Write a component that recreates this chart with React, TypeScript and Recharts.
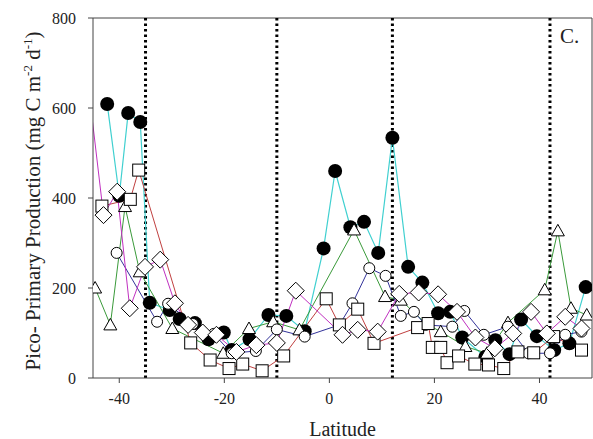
import React from 'react';
import { ComposedChart, Line, XAxis, YAxis, ReferenceLine, Label } from 'recharts';

// Series 1: cyan line, filled black circles
const cyanLat = [-42.3, -40, -38.3, -36, -34.2, -30.4, -28.5, -25.6, -23, -20.1, -18.6, -15.2, -11.6, -8.2, -4.7, -1.1, 1.1, 4, 6.6, 9.3, 12, 15, 17.7, 20.7, 23, 25.3, 29.7, 31.6, 34.3, 36.5, 39.5, 42.8, 45.7, 48.8];
const cyanVal = [609, 405, 589, 569, 167, 151, 131, 122, 86, 101, 62, 86, 140, 138, 104, 288, 460, 335, 347, 278, 534, 247, 212, 144, 147, 90, 47, 84, 53, 130, 93, 62, 77, 202];

// Series 2: green line, open triangles
const greenLat = [-44.6, -41.7, -38.9, -36.1, -29.9, -20.2, -15.3, -10.7, -5.7, 4.7, 10.6, 13.6, 18.5, 21.2, 25.9, 30, 34, 41, 43.5, 46, 49];
const greenVal = [200, 118, 381, 236, 110, 55, 110, 125, 107, 329, 181, 173, 120, 103, 70, 55, 123, 196, 327, 155, 140];

// Series 3: magenta line, open diamonds (first point lies just off the left edge)
const magentaLat = [-46, -43, -40.4, -38, -35.1, -32.2, -29.4, -26.9, -24.1, -21.5, -17.7, -13.9, -10, -6.4, 2.5, 5.4, 9.2, 13.3, 17, 20.7, 24.3, 27.8, 31.5, 35, 38.4, 41.4, 44.9, 48];
const magentaVal = [660, 362, 414, 155, 247, 263, 166, 118, 101, 96, 58, 73, 78, 194, 96, 107, 103, 187, 190, 186, 147, 90, 66, 99, 147, 99, 136, 110];

// Series 4: navy line, open circles
const navyLat = [-40.5, -32.8, -30.7, -26, -22, -18.6, -14, -10, -4.7, 1.9, 4.4, 7.6, 10.7, 13.6, 16.1, 18.3, 23.4, 25.7, 29.4, 34, 37.9, 42, 44.9, 48];
const navyVal = [278, 125, 165, 120, 98, 55, 60, 108, 92, 118, 166, 244, 227, 138, 147, 118, 114, 149, 96, 114, 55, 55, 96, 103];

// Series 5: red line, open squares
const redLat = [-43.3, -37.9, -36.3, -26.4, -22.7, -19.1, -16.5, -12.8, -8.7, -0.6, 1.9, 5.4, 8.5, 16.8, 18.8, 19.6, 21.2, 22.4, 24.6, 27.7, 30.3, 33.2, 35.9, 38.9, 42.7, 48];
const redVal = [382, 397, 462, 78, 40, 21, 31, 16, 49, 176, 118, 153, 77, 112, 121, 68, 68, 34, 49, 31, 29, 21, 58, 56, 92, 62];

const boundaries = [-35, -10, 12, 42];
const xTicks = [-40, -20, 0, 20, 40];
const yTicks = [0, 200, 400, 600, 800];
const X_MIN = -45;
const X_MAX = 50;

const rows = (lat: number[], val: number[]) => lat.map((x, i) => ({ lat: x, v: val[i] }));

const FONT = '"Liberation Serif", "Times New Roman", serif';

const inside = (p: any) => p.payload && p.payload.lat >= X_MIN && p.payload.lat <= X_MAX;

const BlackDot = (p: any) => <circle key={p.index} cx={p.cx} cy={p.cy} r={7} fill="#000" />;
const TriDot = (p: any) => (
  <polygon key={p.index} points={`${p.cx},${p.cy - 6.5} ${p.cx + 6.5},${p.cy + 5} ${p.cx - 6.5},${p.cy + 5}`} fill="#fff" stroke="#000" strokeWidth={1} />
);
const DiaDot = (p: any) =>
  inside(p) ? (
    <polygon key={p.index} points={`${p.cx},${p.cy - 8.5} ${p.cx + 8.5},${p.cy} ${p.cx},${p.cy + 8.5} ${p.cx - 8.5},${p.cy}`} fill="#fff" stroke="#000" strokeWidth={1} />
  ) : (
    <g key={p.index} />
  );
const CirDot = (p: any) => <circle key={p.index} cx={p.cx} cy={p.cy} r={5.5} fill="#fff" stroke="#000" strokeWidth={1} />;
const SqDot = (p: any) => <rect key={p.index} x={p.cx - 6} y={p.cy - 6} width={12} height={12} fill="#fff" stroke="#000" strokeWidth={1} />;

const YTitle = () => (
  <text x={40} y={201} transform="rotate(-90 40 201)" textAnchor="middle" fontFamily={FONT} fontSize={21} fill="#222">
    Pico- Primary Production (mg C m<tspan dy={-8} fontSize={13}>-2</tspan><tspan dy={8}> d</tspan><tspan dy={-8} fontSize={13}>-1</tspan><tspan dy={8}>)</tspan>
  </text>
);

const XTitle = () => (
  <text x={342.5} y={436} textAnchor="middle" fontFamily={FONT} fontSize={20} fill="#222">Latitude</text>
);

export default function App() {
  return (
    <div style={{ position: 'absolute', left: 0, top: 0, background: '#fff' }}>
      <ComposedChart width={593} height={439} margin={{ top: 18, right: 1, bottom: 0, left: 0 }}>
        <XAxis
          type="number"
          dataKey="lat"
          domain={[X_MIN, X_MAX]}
          allowDataOverflow
          ticks={xTicks}
          height={61}
          tickSize={5}
          tickMargin={10}
          stroke="#444"
          tick={{ fill: '#222', fontSize: 16, fontFamily: FONT }}
        >
          <Label content={<XTitle />} />
        </XAxis>
        <YAxis
          type="number"
          domain={[0, 800]}
          ticks={yTicks}
          width={93}
          tickSize={5}
          tickMargin={12}
          stroke="#444"
          tick={{ fill: '#222', fontSize: 16, fontFamily: FONT }}
        >
          <Label content={<YTitle />} />
        </YAxis>
        <ReferenceLine y={800} stroke="#444" strokeWidth={1} />
        <ReferenceLine x={X_MAX} stroke="#444" strokeWidth={1} />
        {boundaries.map((b) => (
          <ReferenceLine key={b} x={b} stroke="#000" strokeWidth={3} strokeDasharray="2.5 3" />
        ))}
        <Line data={rows(cyanLat, cyanVal)} dataKey="v" type="linear" stroke="#40d0d0" strokeWidth={1.2} dot={BlackDot} isAnimationActive={false} />
        <Line data={rows(greenLat, greenVal)} dataKey="v" type="linear" stroke="#3a9a3a" strokeWidth={1} dot={TriDot} isAnimationActive={false} />
        <Line data={rows(navyLat, navyVal)} dataKey="v" type="linear" stroke="#33339a" strokeWidth={1} dot={CirDot} isAnimationActive={false} />
        <Line data={rows(redLat, redVal)} dataKey="v" type="linear" stroke="#c04040" strokeWidth={1} dot={SqDot} isAnimationActive={false} />
        <Line data={rows(magentaLat, magentaVal)} dataKey="v" type="linear" stroke="#c030c0" strokeWidth={1} dot={DiaDot} isAnimationActive={false} />
        <text x={560} y={43} fontFamily={FONT} fontSize={21} fill="#222">C.</text>
      </ComposedChart>
    </div>
  );
}
